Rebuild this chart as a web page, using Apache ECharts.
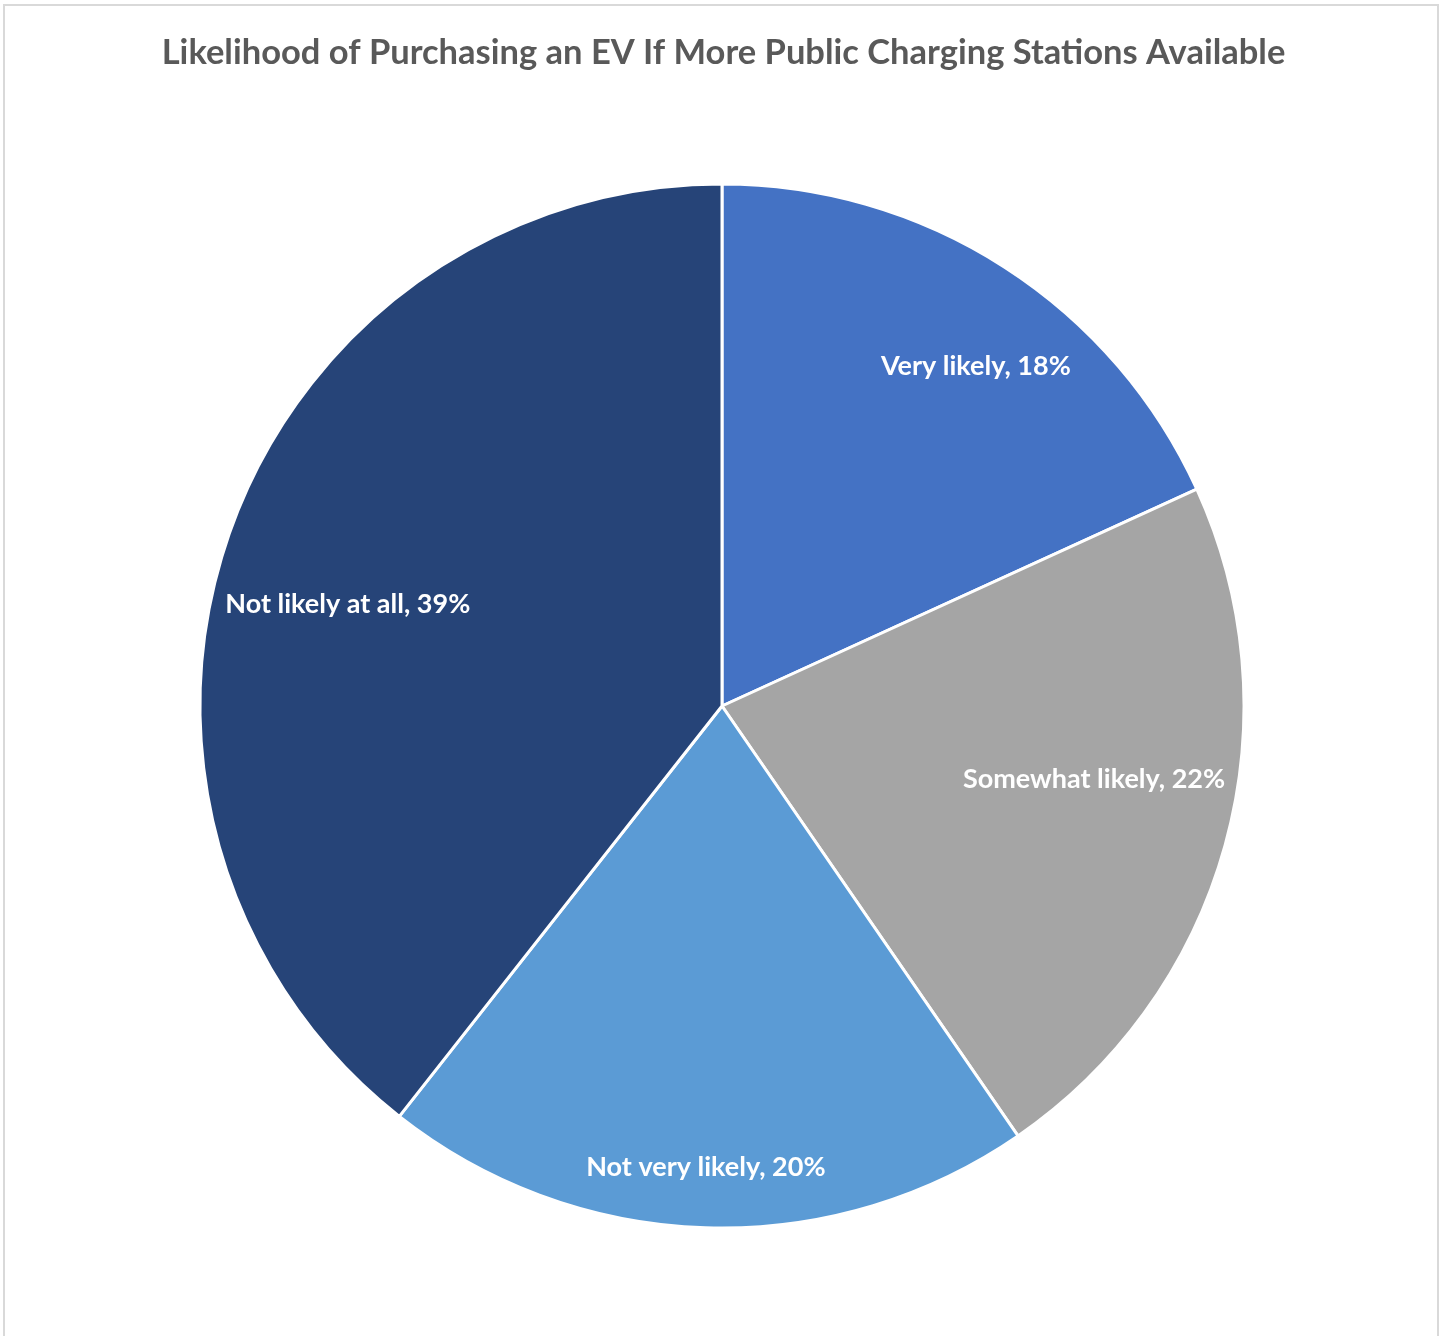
<!DOCTYPE html>
<html>
<head>
<meta charset="utf-8">
<title>EV charging pie</title>
<script src="https://cdn.jsdelivr.net/npm/echarts@6/dist/echarts.min.js"></script>
<style>
  html, body { margin: 0; padding: 0; background: #fff; }
  #frame {
    position: absolute; left: 3px; top: 4px; width: 1436px; height: 1340px;
    border: 2px solid #d9d9d9; border-bottom: none; box-sizing: border-box;
  }
  #chart { position: absolute; left: 0; top: 0; width: 1447px; height: 1336px; }
</style>
</head>
<body>
<div id="frame"></div>
<div id="chart"></div>
<script>
// 数据
const categories = ['Very likely', 'Somewhat likely', 'Not very likely', 'Not likely at all']
const percents = [18, 22, 20, 39]
const colors = ['#4472C4', '#A5A5A5', '#5B9BD5', '#264478']

const titleText = 'Likelihood of Purchasing an EV If More Public Charging Stations Available'
const fontFamily = 'Lato, "Open Sans", sans-serif'

// 标签微调（Excel 的标签位置不在扇区正中线上）
const labelNudge = [[30, 9], [-27, -37], [-3, 48], [17, 34]]

const pieData = categories.map((name, i) => ({
  name,
  value: percents[i],
  itemStyle: { color: colors[i] }
}))

const myChart = echarts.init(document.getElementById('chart'))

myChart.setOption({
  animation: false,
  title: {
    text: titleText,
    left: 'center',
    top: 30,
    textStyle: { fontFamily, fontSize: 34.5, fontWeight: 'bold', color: '#595959' }
  },
  series: [
    {
      //扇区
      type: 'pie',
      center: [722, 706],
      radius: [0, 522],
      startAngle: 90,
      clockwise: true,
      silent: true,
      itemStyle: { borderColor: '#fff', borderWidth: 3 },
      label: { show: false },
      labelLine: { show: false },
      data: pieData
    },
    {
      //标签（透明层，控制标签半径）
      type: 'pie',
      center: [722, 706],
      radius: [300, 522],
      startAngle: 90,
      clockwise: true,
      silent: true,
      itemStyle: { color: 'rgba(0,0,0,0)', borderWidth: 0 },
      label: {
        show: true,
        position: 'inside',
        overflow: 'none',
        formatter: p => p.name + ', ' + p.value + '%',
        fontFamily,
        fontSize: 27,
        fontWeight: 'bold',
        color: '#fff'
      },
      labelLayout: params => {
        const [dx, dy] = labelNudge[params.dataIndex]
        return { dx, dy }
      },
      labelLine: { show: false },
      data: categories.map((name, i) => ({ name, value: percents[i] }))
    }
  ]
})
</script>
</body>
</html>
